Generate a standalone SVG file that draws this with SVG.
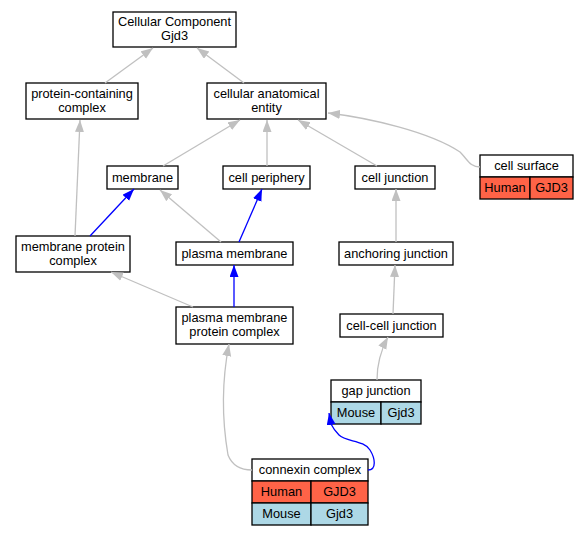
<svg xmlns="http://www.w3.org/2000/svg" width="587" height="536" viewBox="0 0 587 536">
<style>
.n{fill:#fff;stroke:#000;stroke-width:1.3}
.h{fill:#ff6347;stroke:#000;stroke-width:1.3}
.m{fill:#add8e6;stroke:#000;stroke-width:1.3}
text{font-family:"Liberation Sans",Arial,sans-serif;font-size:12.8px;text-anchor:middle;fill:#000}
.g{fill:none;stroke:#c0c0c0;stroke-width:1.3}
.b{fill:none;stroke:#0000ff;stroke-width:1.3}
</style>
<defs>
<marker id="ag" markerUnits="userSpaceOnUse" markerWidth="13" markerHeight="10" refX="12" refY="4.5" orient="auto"><path d="M0,0 L12,4.5 L0,9 z" fill="#c0c0c0"/></marker>
<marker id="ab" markerUnits="userSpaceOnUse" markerWidth="13" markerHeight="10" refX="12" refY="4.5" orient="auto"><path d="M0,0 L12,4.5 L0,9 z" fill="#0000ff"/></marker>
</defs>
<rect width="587" height="536" fill="#fff"/>
<g id="n_cc"><rect class="n" x="113" y="12" width="123" height="35"/><text x="174.5" y="26">Cellular Component</text><text x="174.5" y="40">Gjd3</text></g>
<g id="n_pcc"><rect class="n" x="26" y="83" width="112" height="36"/><text x="82" y="98">protein-containing</text><text x="82" y="112">complex</text></g>
<g id="n_cae"><rect class="n" x="207" y="83" width="119" height="36"/><text x="266.5" y="98">cellular anatomical</text><text x="266.5" y="112">entity</text></g>
<g id="n_mem"><rect class="n" x="107" y="166" width="71" height="23"/><text x="142.5" y="182">membrane</text></g>
<g id="n_cp"><rect class="n" x="223" y="166" width="87" height="23"/><text x="266.5" y="182">cell periphery</text></g>
<g id="n_cj"><rect class="n" x="355" y="166" width="80" height="23"/><text x="395" y="182">cell junction</text></g>
<g id="n_cs"><rect class="n" x="480" y="155" width="93" height="22"/><text x="526.5" y="170">cell surface</text><rect class="h" x="480" y="177" width="50" height="22"/><text x="505" y="192">Human</text><rect class="h" x="530" y="177" width="43" height="22"/><text x="551.5" y="192">GJD3</text></g>
<g id="n_mpc"><rect class="n" x="16" y="236" width="114" height="36"/><text x="73" y="251">membrane protein</text><text x="73" y="265">complex</text></g>
<g id="n_pm"><rect class="n" x="176" y="242" width="117" height="23"/><text x="234.5" y="258">plasma membrane</text></g>
<g id="n_aj"><rect class="n" x="339" y="242" width="114" height="23"/><text x="396" y="258">anchoring junction</text></g>
<g id="n_pmpc"><rect class="n" x="176" y="307" width="117" height="37"/><text x="234.5" y="322">plasma membrane</text><text x="234.5" y="336">protein complex</text></g>
<g id="n_ccj"><rect class="n" x="340" y="314" width="103" height="23"/><text x="391.5" y="330">cell-cell junction</text></g>
<g id="n_gj"><rect class="n" x="331" y="380" width="90" height="22"/><text x="376" y="395">gap junction</text><rect class="m" x="331" y="402" width="50" height="22"/><text x="356" y="417">Mouse</text><rect class="m" x="381" y="402" width="40" height="22"/><text x="401" y="417">Gjd3</text></g>
<g id="n_cx"><rect class="n" x="252" y="459" width="116" height="22"/><text x="310" y="474">connexin complex</text><rect class="h" x="252" y="481" width="59" height="22"/><text x="281.5" y="496">Human</text><rect class="h" x="311" y="481" width="57" height="22"/><text x="339.5" y="496">GJD3</text><rect class="m" x="252" y="503" width="59" height="22"/><text x="281.5" y="518">Mouse</text><rect class="m" x="311" y="503" width="57" height="22"/><text x="339.5" y="518">Gjd3</text></g>
<g id="edges">
<path class="g" d="M105,83 L153,48" marker-end="url(#ag)"/>
<path class="g" d="M244,83 L197,48" marker-end="url(#ag)"/>
<path class="g" d="M163,166 L240,120" marker-end="url(#ag)"/>
<path class="g" d="M267,166 L267,120" marker-end="url(#ag)"/>
<path class="g" d="M377,166 L298,120" marker-end="url(#ag)"/>
<path class="g" d="M480,167 C470,167 468,160 460,152 C430,132 370,118 328,113" marker-end="url(#ag)"/>
<path class="g" d="M75,236 L80,120" marker-end="url(#ag)"/>
<path class="b" d="M90,236 L134,189" marker-end="url(#ab)"/>
<path class="g" d="M221,242 L160,190" marker-end="url(#ag)"/>
<path class="b" d="M239,242 L262,189" marker-end="url(#ab)"/>
<path class="g" d="M396,242 L396,189" marker-end="url(#ag)"/>
<path class="g" d="M193,307 L111,272" marker-end="url(#ag)"/>
<path class="b" d="M234,307 L234,265" marker-end="url(#ab)"/>
<path class="g" d="M393,314 L395,265" marker-end="url(#ag)"/>
<path class="g" d="M377,380 C377,365 381,350 388,337" marker-end="url(#ag)"/>
<path class="g" d="M252,470 C240,470 232,465 228,455 C222,420 222,380 229,344" marker-end="url(#ag)"/>
<path class="b" d="M368,470 C377,470 375,458 370,450 C364,440 346,442 339,435 C335,431 333,428 331,424 L329,413" marker-end="url(#ab)"/>
</g>
</svg>
